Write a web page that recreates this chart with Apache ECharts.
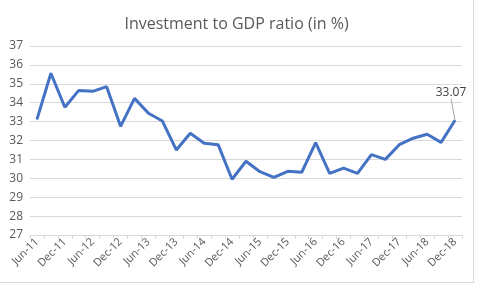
<!DOCTYPE html>
<html>
<head>
<meta charset="utf-8">
<script src="https://cdn.jsdelivr.net/npm/echarts@6/dist/echarts.min.js"></script>
<style>
  html, body { margin: 0; padding: 0; background: #fff; }
  #chart { width: 473px; height: 282px; border-right: 1px solid #d9d9d9; border-bottom: 1px solid #d9d9d9; }
</style>
</head>
<body>
<div id="chart"></div>
<script>
// quarterly, Jun-11 .. Dec-18
var quarters = ['Jun-11','Sep-11','Dec-11','Mar-12','Jun-12','Sep-12','Dec-12','Mar-13',
  'Jun-13','Sep-13','Dec-13','Mar-14','Jun-14','Sep-14','Dec-14','Mar-15',
  'Jun-15','Sep-15','Dec-15','Mar-16','Jun-16','Sep-16','Dec-16','Mar-17',
  'Jun-17','Sep-17','Dec-17','Mar-18','Jun-18','Sep-18','Dec-18'];
var ratio = [33.12, 35.56, 33.76, 34.65, 34.6, 34.85, 32.75, 34.23,
  33.44, 33.03, 31.5, 32.38, 31.85, 31.78, 29.95, 30.9,
  30.35, 30.05, 30.37, 30.32, 31.89, 30.26, 30.54, 30.26,
  31.25, 31.0, 31.78, 32.12, 32.33, 31.9, 33.07];
var yTicks = { min: 27, max: 37, step: 1 };

var myChart = echarts.init(document.getElementById('chart'));

var seriesData = ratio.map(function (v, i) {
  if (i === ratio.length - 1) {
    return { value: v, label: { show: true } };
  }
  return v;
});

var option = {
  animation: false,
  textStyle: { fontFamily: 'Open Sans' },
  title: {
    text: 'Investment to GDP ratio (in %)',
    left: 'center',
    top: 11,
    textStyle: { fontSize: 16, fontWeight: 'normal', color: '#595959', fontFamily: 'Open Sans' }
  },
  grid: { left: 30, right: 11, top: 46, bottom: 47 },
  xAxis: {
    type: 'category',
    data: quarters,
    boundaryGap: true,
    axisLine: { lineStyle: { color: '#d9d9d9' } },
    axisTick: { show: true, interval: 0, length: 4, lineStyle: { color: '#d9d9d9' } },
    axisLabel: { interval: 1, rotate: 45, fontSize: 11, color: '#595959', margin: 5 }
  },
  yAxis: {
    type: 'value',
    min: yTicks.min,
    max: yTicks.max,
    interval: yTicks.step,
    axisLine: { show: false },
    axisTick: { show: false },
    axisLabel: { fontSize: 12, color: '#595959', margin: 7 },
    splitLine: { lineStyle: { color: '#d9d9d9' } }
  },
  series: [{
    type: 'line',
    data: seriesData,
    symbol: 'circle',
    symbolSize: 1,
    showSymbol: true,
    itemStyle: { color: '#4472C4' },
    lineStyle: { color: '#4472C4', width: 3 },
    label: { position: 'top', fontSize: 12, color: '#404040' },
    labelLayout: { dx: -4, dy: -16 },
    labelLine: { show: true, lineStyle: { color: '#a6a6a6', width: 1 } }
  }]
};
myChart.setOption(option);
</script>
</body>
</html>
